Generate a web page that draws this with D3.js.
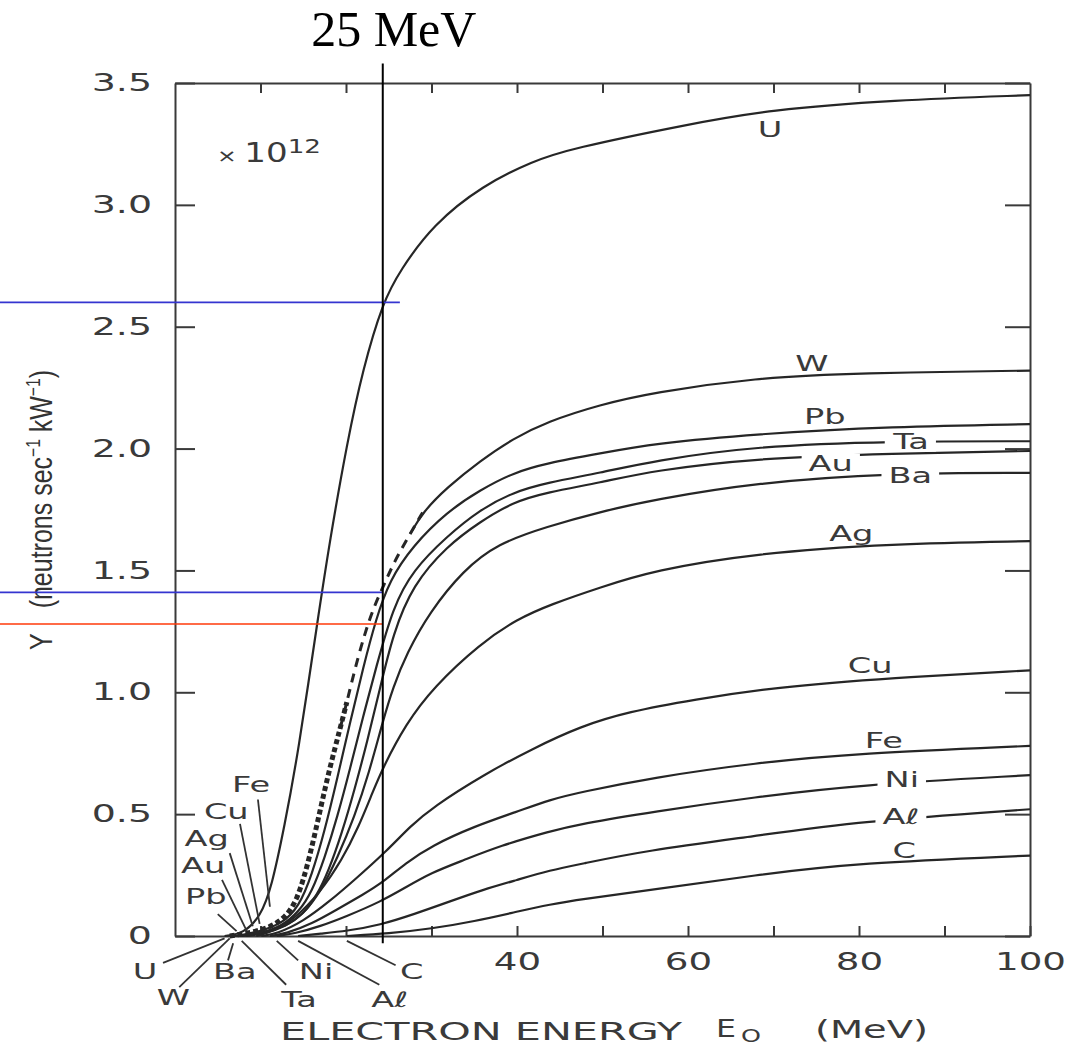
<!DOCTYPE html>
<html>
<head>
<meta charset="utf-8">
<script src="https://cdn.jsdelivr.net/npm/d3@7"></script>
<style>
  html, body { margin: 0; padding: 0; background: #fff; }
  svg { display: block; }
  .axis { color: #3a3a3a; }
  .axis path, .axis line { stroke-width: 2; }
  .tick text, .lettering { fill: #3a3a3a; font-family: "DejaVu Sans", sans-serif; }
  .tick text { font-size: 24px; }
  .lettering { font-size: 21px; }
  .curve { fill: none; stroke: #262626; stroke-width: 2.2; }
  .pointer { stroke: #333; stroke-width: 1.8; }
</style>
</head>
<body>
<svg id="chart" width="1086" height="1047"></svg>
<script>
// yield curves, [electron energy MeV, Y x 1e12 n/s/kW]
const uYield = [[5.8,0],[8,0.01],[10,0.08],[11.3,0.2],[12.8,0.45],[14.4,0.75],[16.7,1.3],[18.1,1.62],[20.1,2.02],[22,2.33],[24.3,2.6],[26.3,2.73],[30.2,2.92],[36,3.08],[41.9,3.18],[46.2,3.23],[59.9,3.33],[69.5,3.39],[83.9,3.43],[100,3.45]];
const wYield = [[6.4,0],[10,0.02],[12.5,0.06],[14.3,0.14],[15.8,0.33],[17,0.52],[18.1,0.69],[19.3,0.85],[20.1,0.96],[21.5,1.16],[23,1.33],[24.3,1.43],[25.7,1.54],[27.5,1.65],[29,1.74],[31.8,1.84],[35.7,1.95],[39.5,2.04],[43.5,2.11],[49.7,2.18],[55.9,2.23],[67.8,2.29],[79.9,2.31],[100,2.32]];
const pbYield = [[7.4,0],[10,0.02],[12.5,0.05],[14.5,0.12],[16,0.25],[17.5,0.43],[19,0.65],[20.5,0.88],[22,1.1],[23.5,1.3],[25.1,1.46],[27.8,1.6],[31.8,1.74],[35.7,1.83],[39.5,1.9],[43.5,1.94],[49.7,1.98],[56,2.02],[67.8,2.06],[83.9,2.09],[100,2.1]];
const taYield = [[7.8,0],[10,0.01],[12.5,0.04],[14.5,0.1],[16,0.18],[17.5,0.32],[19,0.49],[20.5,0.69],[22,0.9],[23.5,1.1],[25.5,1.35],[27.8,1.5],[31.8,1.64],[35.7,1.75],[39.5,1.82],[43.5,1.86],[49.7,1.9],[56,1.95],[67.8,2.01],[83.9,2.03],[100,2.03]];
const auYield = [[8.3,0],[10.5,0.01],[13,0.04],[15,0.09],[16.5,0.16],[18,0.27],[19.5,0.42],[21,0.6],[22.5,0.8],[24,1.02],[25.5,1.24],[27.8,1.44],[31.8,1.6],[35.7,1.7],[39.5,1.78],[43.5,1.82],[49.7,1.86],[56,1.91],[67.8,1.96],[83.9,1.98],[100,1.99]];
const baYield = [[6.7,0],[10,0.01],[13,0.04],[15,0.09],[17,0.18],[19,0.32],[21,0.49],[22.7,0.67],[24.3,0.88],[25.5,1.02],[27.1,1.16],[29.8,1.33],[33.7,1.5],[37.7,1.61],[43.5,1.68],[49.7,1.74],[56,1.79],[67.8,1.86],[83.9,1.9],[100,1.9]];
const agYield = [[9.5,0],[11.5,0.02],[14,0.07],[17,0.18],[19.5,0.31],[21.5,0.45],[23,0.58],[24.3,0.69],[27,0.87],[30.2,1.02],[35.7,1.2],[40,1.3],[43.9,1.36],[49.7,1.43],[56,1.5],[67.8,1.57],[83.9,1.61],[100,1.62]];
const cuYield = [[10.1,0],[12,0.01],[15,0.06],[18,0.14],[21,0.23],[24.8,0.35],[27.5,0.45],[30.2,0.53],[36,0.66],[41.9,0.77],[47.4,0.86],[53,0.92],[60.7,0.97],[70,1.02],[83.9,1.06],[100,1.09]];
const feYield = [[11.1,0],[13,0.01],[16,0.05],[19,0.11],[22,0.17],[24.3,0.22],[27,0.3],[30,0.37],[35,0.45],[40,0.51],[43.9,0.56],[47.4,0.59],[55.9,0.65],[67.8,0.71],[79.9,0.75],[100,0.78]];
const niYield = [[11.9,0],[14,0.01],[17,0.04],[20,0.08],[24,0.14],[27,0.2],[30,0.26],[33.7,0.31],[38,0.37],[43.9,0.43],[47.4,0.46],[55.9,0.51],[67.8,0.57],[79.9,0.62],[100,0.66]];
const alYield = [[14.4,0],[17,0.01],[20,0.02],[24,0.045],[28,0.09],[32,0.14],[36,0.19],[40,0.23],[43.9,0.27],[47.4,0.295],[55,0.35],[67.8,0.41],[79.9,0.47],[100,0.52]];
const cYield = [[20.1,0],[25,0.01],[30,0.03],[35,0.06],[40,0.1],[43.9,0.13],[47.4,0.15],[55.9,0.19],[67.8,0.25],[79.9,0.3],[100,0.33]];

const xTicks = [10, 20, 30, 40, 50, 60, 70, 80, 90, 100];
const xTickLabels = [40, 60, 80, 100];
const yTicks = [0, 0.5, 1.0, 1.5, 2.0, 2.5, 3.0, 3.5];

// the W curve is dashed below this energy (thick dashes, then thin ones)
const wThinDashFrom = 20.1;
const wSolidFrom = 29;

// labels on the right: name, E, Y, cut a gap in the line
const rightLabels = [
  ['U', 69.6, 3.31, false], ['W', 74.5, 2.35, false], ['Pb', 76.0, 2.13, false],
  ['Ta', 86.1, 2.03, true], ['Au', 76.7, 1.94, true], ['Ba', 86.0, 1.89, true],
  ['Ag', 79.1, 1.65, false], ['Cu', 81.3, 1.11, false], ['Fe', 82.9, 0.80, false],
  ['Ni', 85.0, 0.64, true], ['A\u2113', 84.9, 0.49, true], ['C', 85.3, 0.35, false]
];
// labels at the thresholds: name, E, Y, pointer start, pointer end
const leftLabels = [
  ['Fe', 8.9, 0.62, [9.7, 0.56], [11.1, 0.12]],
  ['Cu', 6.0, 0.51, [7.6, 0.46], [9.9, 0.05]],
  ['Ag', 3.7, 0.40, [6.4, 0.34], [9.1, 0.04]],
  ['Au', 3.3, 0.29, [5.5, 0.23], [8.4, 0.02]],
  ['Pb', 3.6, 0.16, [5.0, 0.09], [7.2, 0.02]],
  ['U', -3.5, -0.148, [-1.4, -0.11], [5.8, -0.01]],
  ['W', -0.2, -0.254, [0.5, -0.21], [6.4, -0.01]],
  ['Ba', 7.0, -0.148, [6.2, -0.1], [6.8, -0.03]],
  ['Ta', 14.5, -0.26, [13, -0.2], [7.8, -0.02]],
  ['Ni', 16.5, -0.148, [14.4, -0.1], [11.9, -0.02]],
  ['A\u2113', 25.1, -0.26, [23.9, -0.2], [14.4, -0.02]],
  ['C', 27.7, -0.148, [25.8, -0.12], [20.1, -0.02]]
];

// overlay drawn on top of the scan
const markerMeV = 24.3;
const markerSpan = [3.58, -0.03];
const guideLevels = [2.6, 1.41, 1.28];
const guideEnds = [26.3, 24.3, 24.3];
const guideColors = ['#3535d0', '#3535d0', '#ff3a0a'];

const series = [
  { name: 'U', values: uYield }, { name: 'Pb', values: pbYield },
  { name: 'Ta', values: taYield }, { name: 'Au', values: auYield },
  { name: 'Ba', values: baYield }, { name: 'Ag', values: agYield },
  { name: 'Cu', values: cuYield }, { name: 'Fe', values: feYield },
  { name: 'Ni', values: niYield }, { name: 'Al', values: alYield },
  { name: 'C', values: cYield }
];

const plot = { left: 175, right: 1030, top: 83, bottom: 936 };
const labelStretch = 1.6;

const svg = d3.select('#chart');
const x = d3.scaleLinear().domain([0, 100]).range([plot.left, plot.right]);
const y = d3.scaleLinear().domain([0, 3.5]).range([plot.bottom, plot.top]);

// wide hand lettering: widen each text after it is laid out
function stretch(sel, k) {
  sel.each(function () {
    const len = this.getComputedTextLength();
    if (len > 0) {
      d3.select(this).attr('textLength', len * k).attr('lengthAdjust', 'spacingAndGlyphs');
    }
  });
}

// frame and ticks, all pointing inward
const bottomAxis = svg.append('g').attr('class', 'axis')
  .attr('transform', `translate(0,${plot.bottom})`)
  .call(d3.axisBottom(x).tickValues(xTicks).tickSize(-10).tickSizeOuter(0).tickPadding(17)
    .tickFormat(d => (xTickLabels.includes(d) ? d : '')));
const leftAxis = svg.append('g').attr('class', 'axis')
  .attr('transform', `translate(${plot.left},0)`)
  .call(d3.axisLeft(y).tickValues(yTicks).tickSize(-20).tickSizeOuter(0).tickPadding(23)
    .tickFormat(d => (d === 0 ? '0' : d.toFixed(1))));
svg.append('g').attr('class', 'axis')
  .attr('transform', `translate(0,${plot.top})`)
  .call(d3.axisTop(x).tickValues(xTicks.slice(0, -1)).tickSize(-10).tickSizeOuter(0).tickFormat(''));
svg.append('g').attr('class', 'axis')
  .attr('transform', `translate(${plot.right},0)`)
  .call(d3.axisRight(y).tickValues(yTicks).tickSize(-25).tickSizeOuter(0).tickFormat(''));

stretch(bottomAxis.selectAll('.tick text'), 1.55);
stretch(leftAxis.selectAll('.tick text'), 1.58);

const line = d3.line()
  .x(d => x(d[0]))
  .y(d => y(d[1]))
  .curve(d3.curveBasis);

const curves = svg.append('g');
curves.selectAll('path.curve')
  .data(series)
  .join('path')
  .attr('class', 'curve')
  .attr('d', d => line(d.values));

// W: dashed at low energy, solid above
curves.append('path').attr('class', 'curve')
  .attr('d', line(wYield.filter(d => d[0] <= wThinDashFrom)))
  .style('stroke-width', 5).style('stroke-dasharray', '5,3');
curves.append('path').attr('class', 'curve')
  .attr('d', line(wYield.filter(d => d[0] >= wThinDashFrom - 1.5 && d[0] <= wSolidFrom)))
  .style('stroke-width', 3).style('stroke-dasharray', '9,7');
curves.append('path').attr('class', 'curve')
  .attr('d', line(wYield.filter(d => d[0] >= wSolidFrom - 1.5)));

// element names on the right
const names = svg.append('g');
rightLabels.forEach(([name, e, v, gap]) => {
  const t = names.append('text')
    .attr('class', 'lettering')
    .attr('x', x(e)).attr('y', y(v))
    .attr('dy', '0.35em')
    .attr('text-anchor', 'middle')
    .text(name);
  stretch(t, labelStretch);
  if (gap) {
    const b = t.node().getBBox();
    names.insert('rect', () => t.node())
      .attr('x', b.x - 7).attr('y', b.y + 2)
      .attr('width', b.width + 14).attr('height', b.height - 4)
      .attr('fill', '#fff');
  }
});

// element names at the thresholds, with pointer strokes
leftLabels.forEach(([name, e, v, from, to]) => {
  names.append('line').attr('class', 'pointer')
    .attr('x1', x(from[0])).attr('y1', y(from[1]))
    .attr('x2', x(to[0])).attr('y2', y(to[1]));
  const t = names.append('text')
    .attr('class', 'lettering')
    .attr('x', x(e)).attr('y', y(v))
    .attr('dy', '0.35em')
    .attr('text-anchor', 'middle')
    .text(name);
  stretch(t, labelStretch);
});

// x 10^12 note
const scaleNote = svg.append('text').attr('class', 'lettering')
  .attr('x', 217).attr('y', 162).style('font-size', '26px');
scaleNote.append('tspan').style('font-size', '18px').text('\u00d7 ');
scaleNote.append('tspan').text('10');
scaleNote.append('tspan').style('font-size', '20px').attr('dy', -9).text('12');
scaleNote.attr('textLength', 104).attr('lengthAdjust', 'spacingAndGlyphs');

// axis titles
const xTitle = svg.append('g').attr('class', 'x-title');
const xTitleParts = [
  ['ELECTRON ENERGY', 280, 1040, 25, 402],
  ['E', 716, 1037, 25, 20],
  ['O', 741, 1042, 17, 20],
  ['(MeV)', 815, 1038, 25, 113]
];
xTitleParts.forEach(([txt, px, py, size, len]) => {
  xTitle.append('text').attr('class', 'lettering')
    .attr('x', px).attr('y', py).style('font-size', size + 'px')
    .attr('textLength', len).attr('lengthAdjust', 'spacingAndGlyphs')
    .text(txt);
});

const yTitle = svg.append('text')
  .attr('transform', 'translate(52,510) rotate(-90)')
  .attr('text-anchor', 'middle')
  .attr('fill', '#333')
  .attr('font-family', '"Liberation Sans Narrow", "Liberation Sans", sans-serif')
  .attr('font-size', 32);
yTitle.append('tspan').text('Y\u2002\u2002(neutrons sec');
yTitle.append('tspan').attr('font-size', 20).attr('dy', -12).text('\u22121');
yTitle.append('tspan').attr('dy', 12).text(' kW');
yTitle.append('tspan').attr('font-size', 20).attr('dy', -12).text('\u22121');
yTitle.append('tspan').attr('dy', 12).text(')');
yTitle.attr('textLength', 280).attr('lengthAdjust', 'spacingAndGlyphs');

// 25 MeV overlay
const overlay = svg.append('g');
overlay.selectAll('line.guide')
  .data(guideLevels)
  .join('line')
  .attr('class', 'guide')
  .attr('x1', 0)
  .attr('x2', (d, i) => x(guideEnds[i]))
  .attr('y1', d => y(d)).attr('y2', d => y(d))
  .attr('stroke', (d, i) => guideColors[i])
  .attr('stroke-width', 1.6);
overlay.append('line')
  .attr('x1', x(markerMeV)).attr('x2', x(markerMeV))
  .attr('y1', y(markerSpan[0])).attr('y2', y(markerSpan[1]))
  .attr('stroke', '#000').attr('stroke-width', 2);
overlay.append('text')
  .attr('x', x(markerMeV) + 11).attr('y', 46)
  .attr('text-anchor', 'middle')
  .attr('font-family', '"Liberation Serif", "Times New Roman", serif')
  .attr('font-size', 50)
  .attr('fill', '#000')
  .text('25 MeV');
</script>
</body>
</html>
